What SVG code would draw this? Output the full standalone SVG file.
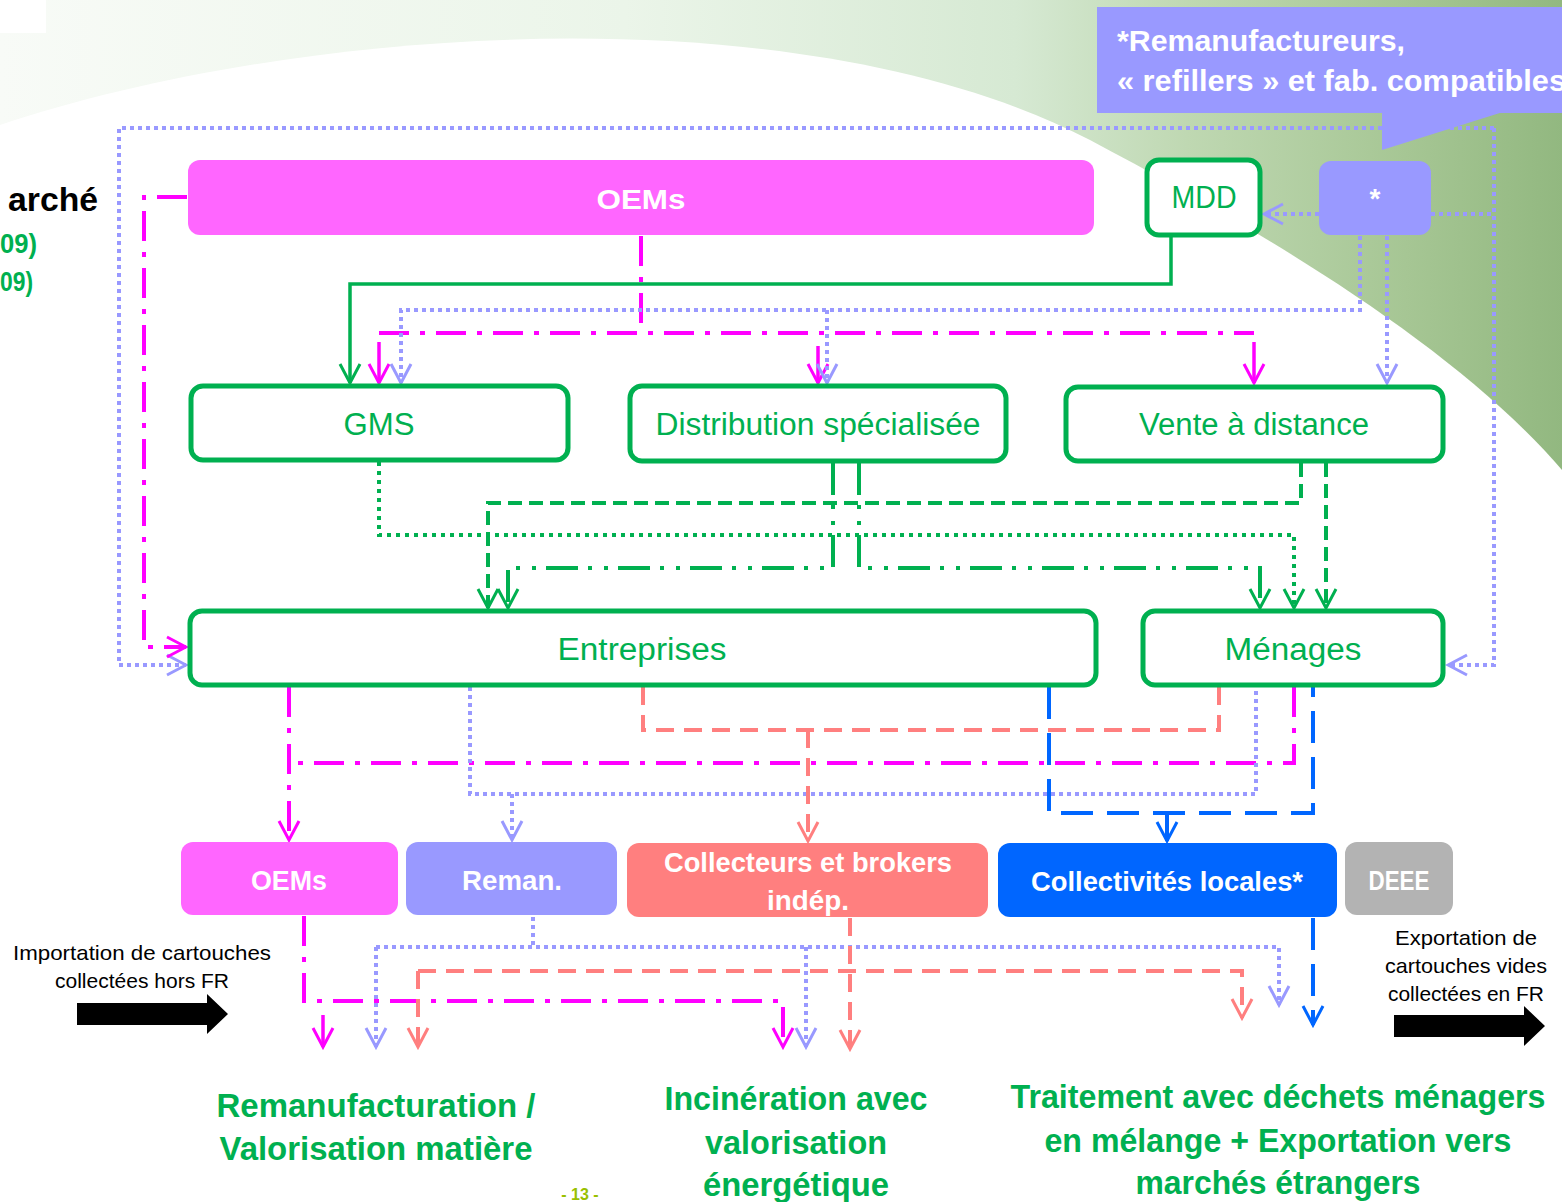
<svg xmlns="http://www.w3.org/2000/svg" width="1562" height="1202" viewBox="0 0 1562 1202">
<style>
text{font-family:"Liberation Sans",Arial,sans-serif}
.gbox{fill:#ffffff;stroke:#00b050;stroke-width:5}
.gtxt{fill:#00b050;font-size:31px;text-anchor:middle}
.wtxt{fill:#ffffff;font-size:28px;font-weight:bold;text-anchor:middle}
.btxt{fill:#000000;font-size:21px;text-anchor:middle}
.ttl{fill:#00b050;font-size:33px;font-weight:bold;text-anchor:middle}
.c{fill:none;stroke-width:4}
.gs{stroke:#00b050;stroke-width:3.5}
.md{stroke:#ff00ff;stroke-dasharray:30 11 5 11}
.ms{stroke:#ff00ff;stroke-width:3.5}
.ld{stroke:#9999ff;stroke-dasharray:4 4}
.gd{stroke:#00b050;stroke-dasharray:4 5}
.gh{stroke:#00b050;stroke-dasharray:14 7}
.gl{stroke:#00b050;stroke-dasharray:32 10 4 12 4 10}
.sd{stroke:#ff7f7f;stroke-dasharray:18 10}
.bd{stroke:#0066ff;stroke-dasharray:32 14}
</style>
<defs>
<linearGradient id="bg" x1="0" y1="0" x2="1" y2="0">
<stop offset="0" stop-color="#f8fbf7"/>
<stop offset="0.4" stop-color="#ebf5e9"/>
<stop offset="0.65" stop-color="#d6e9d3"/>
<stop offset="0.76" stop-color="#bfd8b2"/>
<stop offset="0.9" stop-color="#a6c694"/>
<stop offset="1" stop-color="#92b880"/>
</linearGradient>
<marker id="aG" viewBox="0 0 24 24" refX="21" refY="12" markerWidth="24" markerHeight="24" markerUnits="userSpaceOnUse" orient="auto"><path d="M2,2 L21,12 L2,22" fill="none" stroke="#00b050" stroke-width="3"/></marker>
<marker id="aM" viewBox="0 0 24 24" refX="21" refY="12" markerWidth="24" markerHeight="24" markerUnits="userSpaceOnUse" orient="auto"><path d="M2,2 L21,12 L2,22" fill="none" stroke="#ff00ff" stroke-width="3"/></marker>
<marker id="aL" viewBox="0 0 24 24" refX="21" refY="12" markerWidth="24" markerHeight="24" markerUnits="userSpaceOnUse" orient="auto"><path d="M2,2 L21,12 L2,22" fill="none" stroke="#9999ff" stroke-width="3"/></marker>
<marker id="aS" viewBox="0 0 24 24" refX="21" refY="12" markerWidth="24" markerHeight="24" markerUnits="userSpaceOnUse" orient="auto"><path d="M2,2 L21,12 L2,22" fill="none" stroke="#ff7f7f" stroke-width="3"/></marker>
<marker id="aB" viewBox="0 0 24 24" refX="21" refY="12" markerWidth="24" markerHeight="24" markerUnits="userSpaceOnUse" orient="auto"><path d="M2,2 L21,12 L2,22" fill="none" stroke="#0066ff" stroke-width="3"/></marker>
</defs>

<!-- background -->
<rect x="0" y="0" width="1562" height="1202" fill="url(#bg)"/>
<path d="M0,125 C300,25 800,-10 1090,140 C1250,225 1450,340 1562,470 L1562,1202 L0,1202 Z" fill="#ffffff"/>
<rect x="0" y="0" width="46" height="33" fill="#ffffff"/>

<!-- left cut-off texts -->
<text x="8" y="211" font-size="34" font-weight="bold" fill="#000000" textLength="90" lengthAdjust="spacingAndGlyphs">arché</text>
<text x="0" y="253" font-size="28" font-weight="bold" fill="#00b050" textLength="37" lengthAdjust="spacingAndGlyphs">09)</text>
<text x="0" y="291" font-size="28" font-weight="bold" fill="#00b050" textLength="33" lengthAdjust="spacingAndGlyphs">09)</text>

<!-- callout -->
<g id="callout">
<rect x="1097" y="7" width="470" height="106" fill="#9999ff"/>
<polygon points="1382,112 1382,150 1503,112" fill="#9999ff"/>
<text x="1117" y="51" font-size="30" font-weight="bold" fill="#ffffff" textLength="288" lengthAdjust="spacingAndGlyphs">*Remanufactureurs,</text>
<text x="1117" y="91" font-size="30" font-weight="bold" fill="#ffffff" textLength="449" lengthAdjust="spacingAndGlyphs">« refillers » et fab. compatibles</text>
</g>

<!-- connectors -->
<g id="connectors">
<!-- top -->
<path class="c gs" d="M1171,236 V284 H350 V383" marker-end="url(#aG)"/>
<path class="c md" d="M641,236 V333"/>
<path class="c md" d="M379,333 H1254"/>
<path class="c ms" d="M379,342 V383" marker-end="url(#aM)"/>
<path class="c ms" d="M818,346 V383" marker-end="url(#aM)"/>
<path class="c ms" d="M1254,342 V383" marker-end="url(#aM)"/>
<path class="c ld" d="M1360,236 V310 H401 V383" marker-end="url(#aL)"/>
<path class="c ld" d="M827,310 V383" marker-end="url(#aL)"/>
<path class="c ld" d="M1387,236 V383" marker-end="url(#aL)"/>
<path class="c ld" d="M1319,214 H1264" marker-end="url(#aL)"/>
<path class="c ld" d="M1431,214 H1494"/>
<path class="c ld" d="M1494,128 V665 H1448" marker-end="url(#aL)"/>
<path class="c ld" d="M1494,128 H119 V665 H186" marker-end="url(#aL)"/>
<path class="c md" d="M187,197 H144 V647 H186" marker-end="url(#aM)"/>
<!-- middle -->
<path class="c gd" d="M379,462 V535 H1294 V608" marker-end="url(#aG)"/>
<path class="c gh" d="M1301,463 V503 H488 V608" marker-end="url(#aG)"/>
<path class="c gh" d="M1326,463 V608" marker-end="url(#aG)"/>
<path class="c gl" d="M833,463 V568 H508 V608" marker-end="url(#aG)"/>
<path class="c gl" d="M859,463 V568 H1260 V608" marker-end="url(#aG)"/>
<!-- lower -->
<path class="c md" d="M289,687 V840" marker-end="url(#aM)"/>
<path class="c md" d="M1294,687 V763 H289"/>
<path class="c ld" d="M470,687 V794 H1256 V687"/>
<path class="c ld" d="M512,794 V840" marker-end="url(#aL)"/>
<path class="c sd" d="M643,687 V730 H1219 V687"/>
<path class="c sd" d="M808,730 V841" marker-end="url(#aS)"/>
<path class="c bd" d="M1049,687 V813 H1313 V687"/>
<path class="c bd" d="M1167,813 V841" marker-end="url(#aB)"/>
<!-- bottom -->
<path class="c md" d="M304,916 V1001 H783 V1047" marker-end="url(#aM)"/>
<path class="c ms" d="M323,1015 V1047" marker-end="url(#aM)"/>
<path class="c ld" d="M533,917 V947"/>
<path class="c ld" d="M376,947 H1279 V1005" marker-end="url(#aL)"/>
<path class="c ld" d="M376,947 V1047" marker-end="url(#aL)"/>
<path class="c ld" d="M806,947 V1047" marker-end="url(#aL)"/>
<path class="c sd" d="M850,918 V1049" marker-end="url(#aS)"/>
<path class="c sd" d="M418,971 H1242 V1018" marker-end="url(#aS)"/>
<path class="c sd" d="M418,971 V1047" marker-end="url(#aS)"/>
<path class="c bd" d="M1313,918 V1025" marker-end="url(#aB)"/>
</g>

<!-- nodes -->
<g id="oems-top"><rect x="188" y="160" width="906" height="75" rx="12" fill="#ff66ff"/><text class="wtxt" x="641" y="209" font-size="31" textLength="89" lengthAdjust="spacingAndGlyphs">OEMs</text></g>
<g id="mdd"><rect class="gbox" x="1147" y="160" width="113" height="75" rx="12"/><text class="gtxt" x="1204" y="208" font-size="29" textLength="65" lengthAdjust="spacingAndGlyphs">MDD</text></g>
<g id="star"><rect x="1319" y="161" width="112" height="74" rx="12" fill="#9999ff"/><text class="wtxt" x="1375" y="208" font-size="32">*</text></g>
<g id="gms"><rect class="gbox" x="191" y="386" width="377" height="74" rx="12"/><text class="gtxt" x="379" y="435" textLength="71" lengthAdjust="spacingAndGlyphs">GMS</text></g>
<g id="distribution"><rect class="gbox" x="630" y="386" width="376" height="75" rx="12"/><text class="gtxt" x="818" y="435" textLength="325" lengthAdjust="spacingAndGlyphs">Distribution spécialisée</text></g>
<g id="vad"><rect class="gbox" x="1066" y="387" width="377" height="74" rx="12"/><text class="gtxt" x="1254" y="435" textLength="230" lengthAdjust="spacingAndGlyphs">Vente à distance</text></g>
<g id="entreprises"><rect class="gbox" x="190" y="611" width="906" height="74" rx="12"/><text class="gtxt" x="642" y="660" textLength="169" lengthAdjust="spacingAndGlyphs">Entreprises</text></g>
<g id="menages"><rect class="gbox" x="1143" y="611" width="300" height="74" rx="12"/><text class="gtxt" x="1293" y="660" textLength="137" lengthAdjust="spacingAndGlyphs">Ménages</text></g>

<g id="oems-bottom"><rect x="181" y="842" width="217" height="73" rx="12" fill="#ff66ff"/><text class="wtxt" x="289" y="890" textLength="76" lengthAdjust="spacingAndGlyphs">OEMs</text></g>
<g id="reman"><rect x="406" y="842" width="211" height="73" rx="12" fill="#9999ff"/><text class="wtxt" x="512" y="890" textLength="100" lengthAdjust="spacingAndGlyphs">Reman.</text></g>
<g id="collecteurs"><rect x="627" y="843" width="361" height="74" rx="12" fill="#ff7f7f"/><text class="wtxt" x="808" y="872" textLength="288" lengthAdjust="spacingAndGlyphs">Collecteurs et brokers</text><text class="wtxt" x="808" y="910" textLength="82" lengthAdjust="spacingAndGlyphs">indép.</text></g>
<g id="collectivites"><rect x="998" y="843" width="339" height="74" rx="12" fill="#0066ff"/><text class="wtxt" x="1167" y="891" textLength="272" lengthAdjust="spacingAndGlyphs">Collectivités locales*</text></g>
<g id="deee"><rect x="1345" y="842" width="108" height="73" rx="12" fill="#b3b3b3"/><text class="wtxt" x="1399" y="890" font-size="26" textLength="61" lengthAdjust="spacingAndGlyphs">DEEE</text></g>

<!-- import / export -->
<g id="import">
<text class="btxt" x="142" y="960" textLength="258" lengthAdjust="spacingAndGlyphs">Importation de cartouches</text>
<text class="btxt" x="142" y="988" textLength="174" lengthAdjust="spacingAndGlyphs">collectées hors FR</text>
<polygon points="77,1003 207,1003 207,994 228,1014 207,1034 207,1025 77,1025" fill="#000000"/>
</g>
<g id="export">
<text class="btxt" x="1466" y="945" textLength="142" lengthAdjust="spacingAndGlyphs">Exportation de</text>
<text class="btxt" x="1466" y="973" textLength="162" lengthAdjust="spacingAndGlyphs">cartouches vides</text>
<text class="btxt" x="1466" y="1001" textLength="156" lengthAdjust="spacingAndGlyphs">collectées en FR</text>
<polygon points="1394,1015 1524,1015 1524,1006 1545,1026 1524,1046 1524,1037 1394,1037" fill="#000000"/>
</g>

<!-- outcomes -->
<g id="remanufacturation">
<text class="ttl" x="376" y="1117" textLength="319" lengthAdjust="spacingAndGlyphs">Remanufacturation /</text>
<text class="ttl" x="376" y="1160" textLength="313" lengthAdjust="spacingAndGlyphs">Valorisation matière</text>
</g>
<g id="incineration">
<text class="ttl" x="796" y="1110" textLength="263" lengthAdjust="spacingAndGlyphs">Incinération avec</text>
<text class="ttl" x="796" y="1154" textLength="182" lengthAdjust="spacingAndGlyphs">valorisation</text>
<text class="ttl" x="796" y="1196" textLength="186" lengthAdjust="spacingAndGlyphs">énergétique</text>
</g>
<g id="traitement">
<text class="ttl" x="1278" y="1108" textLength="535" lengthAdjust="spacingAndGlyphs">Traitement avec déchets ménagers</text>
<text class="ttl" x="1278" y="1152" textLength="467" lengthAdjust="spacingAndGlyphs">en mélange + Exportation vers</text>
<text class="ttl" x="1278" y="1194" textLength="285" lengthAdjust="spacingAndGlyphs">marchés étrangers</text>
</g>
<text x="580" y="1200" font-size="16" font-weight="bold" fill="#99c000" text-anchor="middle">- 13 -</text>
</svg>
